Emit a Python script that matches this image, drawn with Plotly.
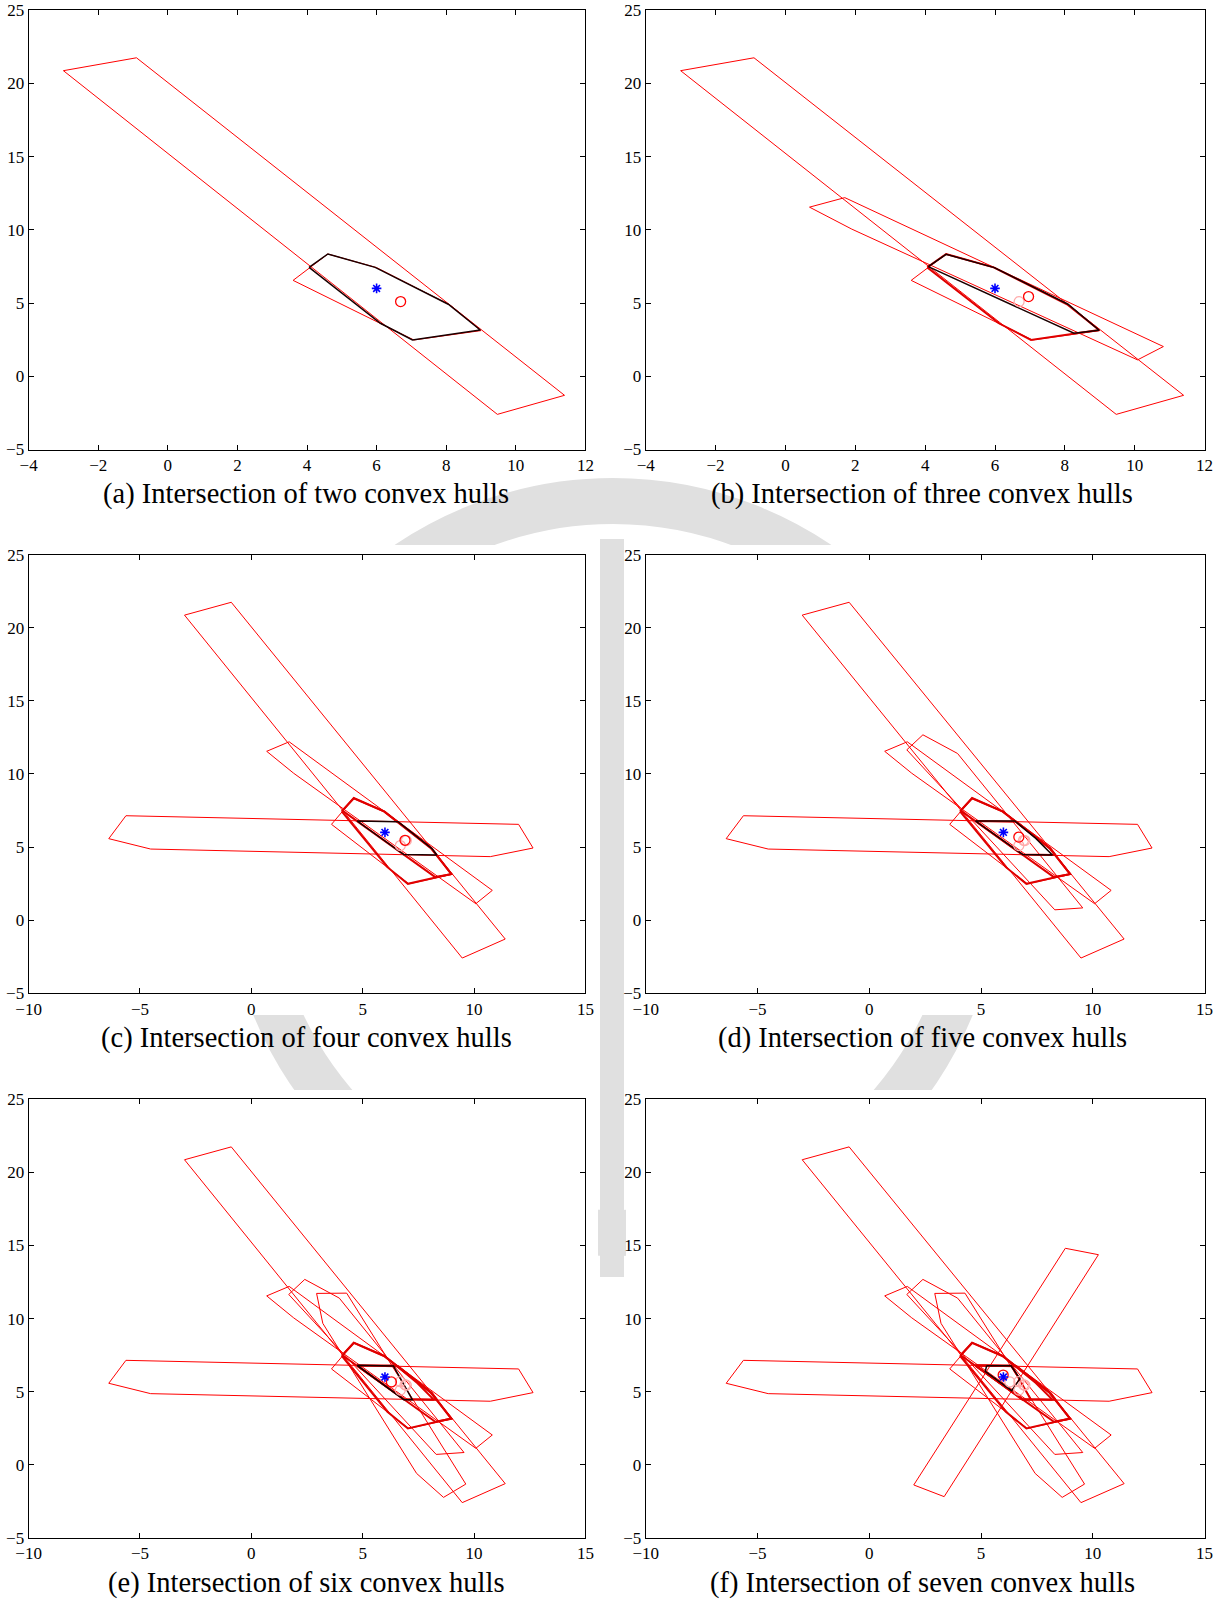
import plotly.graph_objects as go

W, H = 1225, 1602

# ---------------- data ----------------
HULL1_X = [-3.0, -0.9, 11.4, 9.47]
HULL1_Y = [20.87, 21.75, -1.3, -2.6]
HULL2_X = [3.6, 4.6, 6.0, 8.1, 9.0, 7.07]
HULL2_Y = [6.55, 8.35, 7.42, 4.88, 3.12, 2.48]
HULL3_X = [0.69, 1.7, 10.82, 10.08, 1.9]
HULL3_Y = [11.55, 12.2, 2.03, 1.12, 10.05]
HULL4_X = [-6.4, -5.63, 12.0, 12.65, 10.73, -4.52]
HULL4_Y = [5.57, 7.14, 6.55, 4.93, 4.34, 4.86]
HULL5_X = [1.68, 2.4, 3.95, 9.55, 8.3]
HULL5_Y = [11.65, 12.68, 11.4, 0.83, 0.7]
HULL6_X = [2.93, 4.28, 9.63, 8.63, 7.42, 3.21]
HULL6_Y = [11.72, 11.74, -1.33, -2.24, -0.6, 9.67]
HULL7_X = [8.77, 10.25, 3.35, 1.99]
HULL7_Y = [14.81, 14.37, -2.19, -1.39]

INT_A_X = [4.06, 4.6, 5.96, 8.06, 8.98, 7.03, 6.11]
INT_A_Y = [7.44, 8.35, 7.44, 4.92, 3.16, 2.48, 3.62]
INT_B_X = [4.09, 4.6, 5.98, 8.09, 8.98, 8.26]
INT_B_Y = [7.49, 8.33, 7.42, 4.92, 3.14, 2.94]
INT_C_X = [4.75, 6.59, 8.11, 8.33, 6.85]
INT_C_Y = [6.78, 6.73, 4.89, 4.45, 4.48]
INT_D_X = [4.75, 6.51, 7.45, 8.19, 6.87]
INT_D_Y = [6.78, 6.78, 5.59, 4.45, 4.48]
INT_E_X = [4.75, 6.38, 7.23, 6.85]
INT_E_Y = [6.8, 6.75, 4.45, 4.45]
INT_F_X = [5.25, 6.34, 6.74, 6.37, 5.19]
INT_F_Y = [6.77, 6.77, 5.88, 5.06, 6.38]

CENTROID_X = [6.69, 6.96, 6.90, 6.69, 6.29, 5.99]
CENTROID_Y = [5.10, 5.44, 5.46, 5.68, 5.66, 6.13]
TRUE_X = [6.0]
TRUE_Y = [6.0]

CAPTIONS = [
    "(a) Intersection of two convex hulls",
    "(b) Intersection of three convex hulls",
    "(c) Intersection of four convex hulls",
    "(d) Intersection of five convex hulls",
    "(e) Intersection of six convex hulls",
    "(f) Intersection of seven convex hulls",
]
X_RANGES = [[-4, 12], [-4, 12], [-10, 15], [-10, 15], [-10, 15], [-10, 15]]
X_DTICKS = [2, 2, 5, 5, 5, 5]
Y_RANGE = [-5, 25]
Y_DTICK = 5

HULLS = [(HULL1_X, HULL1_Y), (HULL2_X, HULL2_Y), (HULL3_X, HULL3_Y),
         (HULL4_X, HULL4_Y), (HULL5_X, HULL5_Y), (HULL6_X, HULL6_Y),
         (HULL7_X, HULL7_Y)]
INTERSECTIONS = [(INT_A_X, INT_A_Y), (INT_B_X, INT_B_Y), (INT_C_X, INT_C_Y),
                 (INT_D_X, INT_D_Y), (INT_E_X, INT_E_Y), (INT_F_X, INT_F_Y)]

# ---------------- layout geometry (pixels) ----------------
COL_X = [(28.6, 585.4), (645.7, 1204.6)]
ROW_Y = [(10.2, 449.5), (554.8, 993.1), (1099.4, 1537.7)]
CAP_Y = [493.5, 1038.0, 1582.6]
CAP_X = [306.0, 922.0]


def px_x(v):
    return v / W


def px_y(v):
    return 1 - v / H


def closed(xs, ys):
    return list(xs) + [xs[0]], list(ys) + [ys[0]]


fig = go.Figure()
FONT = "Liberation Serif, Times New Roman, serif"

for i in range(6):
    r, c = divmod(i, 2)
    sfx = "" if i == 0 else str(i + 1)
    xa, ya = "x" + sfx, "y" + sfx
    n = i + 2
    for hx, hy in HULLS[:n]:
        cx, cy = closed(hx, hy)
        fig.add_trace(go.Scatter(x=cx, y=cy, mode="lines", xaxis=xa, yaxis=ya,
                                 line=dict(color="#ff0000", width=1), hoverinfo="skip"))
    for ix, iy in INTERSECTIONS[:i]:
        cx, cy = closed(ix, iy)
        fig.add_trace(go.Scatter(x=cx, y=cy, mode="lines", xaxis=xa, yaxis=ya,
                                 line=dict(color="#e00000", width=2), hoverinfo="skip"))
    ix, iy = INTERSECTIONS[i]
    cx, cy = closed(ix, iy)
    fig.add_trace(go.Scatter(x=cx, y=cy, mode="lines", xaxis=xa, yaxis=ya,
                             line=dict(color="#1a0000", width=1.5), hoverinfo="skip"))
    if i > 0:
        fig.add_trace(go.Scatter(x=CENTROID_X[:i], y=CENTROID_Y[:i], mode="markers",
                                 xaxis=xa, yaxis=ya,
                                 marker=dict(symbol="circle-open", size=10,
                                             color="#ffaaaa", line=dict(width=1.2, color="#ffaaaa")),
                                 hoverinfo="skip"))
    fig.add_trace(go.Scatter(x=[CENTROID_X[i]], y=[CENTROID_Y[i]], mode="markers",
                             xaxis=xa, yaxis=ya,
                             marker=dict(symbol="circle-open", size=10, color="#ff0000",
                                         line=dict(width=1.3, color="#ff0000")),
                             hoverinfo="skip"))
    fig.add_trace(go.Scatter(x=TRUE_X, y=TRUE_Y, mode="markers", xaxis=xa, yaxis=ya,
                             marker=dict(symbol="asterisk-open", size=8, color="#0000ff",
                                         line=dict(width=1.6, color="#0000ff")),
                             hoverinfo="skip"))

    axis_common = dict(showline=True, linecolor="black", linewidth=1, mirror="allticks",
                       ticks="inside", ticklen=5, tickcolor="black", tickwidth=1,
                       showgrid=False, zeroline=False, automargin=False,
                       tickfont=dict(family=FONT, size=17, color="black"))
    x0, x1 = COL_X[c]
    y0, y1 = ROW_Y[r]
    fig.layout["xaxis" + sfx] = dict(axis_common, domain=[px_x(x0), px_x(x1)],
                                     range=X_RANGES[i], dtick=X_DTICKS[i], tick0=0,
                                     anchor=ya)
    fig.layout["yaxis" + sfx] = dict(axis_common, domain=[px_y(y1), px_y(y0)],
                                     range=Y_RANGE, dtick=Y_DTICK, tick0=0,
                                     anchor=xa)
    fig.add_annotation(text=CAPTIONS[i], xref="paper", yref="paper",
                       x=px_x(CAP_X[c]), y=px_y(CAP_Y[r]), xanchor="center", yanchor="middle",
                       showarrow=False, font=dict(family=FONT, size=28.5, color="black"))

# ---------------- faint background watermark (approximate) ----------------
GRAY = "#e0e0e0"
shapes = []
rc_x, rc_y, rr = 613.0, 867.0, 366.0
shapes.append(dict(type="circle", xref="paper", yref="paper", layer="below",
                   x0=px_x(rc_x - rr), x1=px_x(rc_x + rr),
                   y0=px_y(rc_y + rr), y1=px_y(rc_y - rr),
                   line=dict(color=GRAY, width=46), fillcolor="rgba(0,0,0,0)"))
shapes.append(dict(type="rect", xref="paper", yref="paper", layer="below",
                   x0=px_x(600), x1=px_x(624), y0=px_y(1277), y1=px_y(539),
                   line=dict(width=0), fillcolor=GRAY))
PANEL_BOX_X = [(0, 598), (626, 1225)]
PANEL_BOX_Y = [(0, 470), (545, 1015), (1090, 1560)]
for r in range(3):
    for c in range(2):
        shapes.append(dict(type="rect", xref="paper", yref="paper", layer="below",
                           x0=px_x(PANEL_BOX_X[c][0]), x1=px_x(PANEL_BOX_X[c][1]),
                           y0=px_y(PANEL_BOX_Y[r][1]), y1=px_y(PANEL_BOX_Y[r][0]),
                           line=dict(width=0), fillcolor="white"))

fig.update_layout(width=W, height=H, margin=dict(l=0, r=0, t=0, b=0, autoexpand=False),
                  paper_bgcolor="white", plot_bgcolor="white", showlegend=False,
                  shapes=shapes, hovermode=False)

fig.write_html("out.html")
